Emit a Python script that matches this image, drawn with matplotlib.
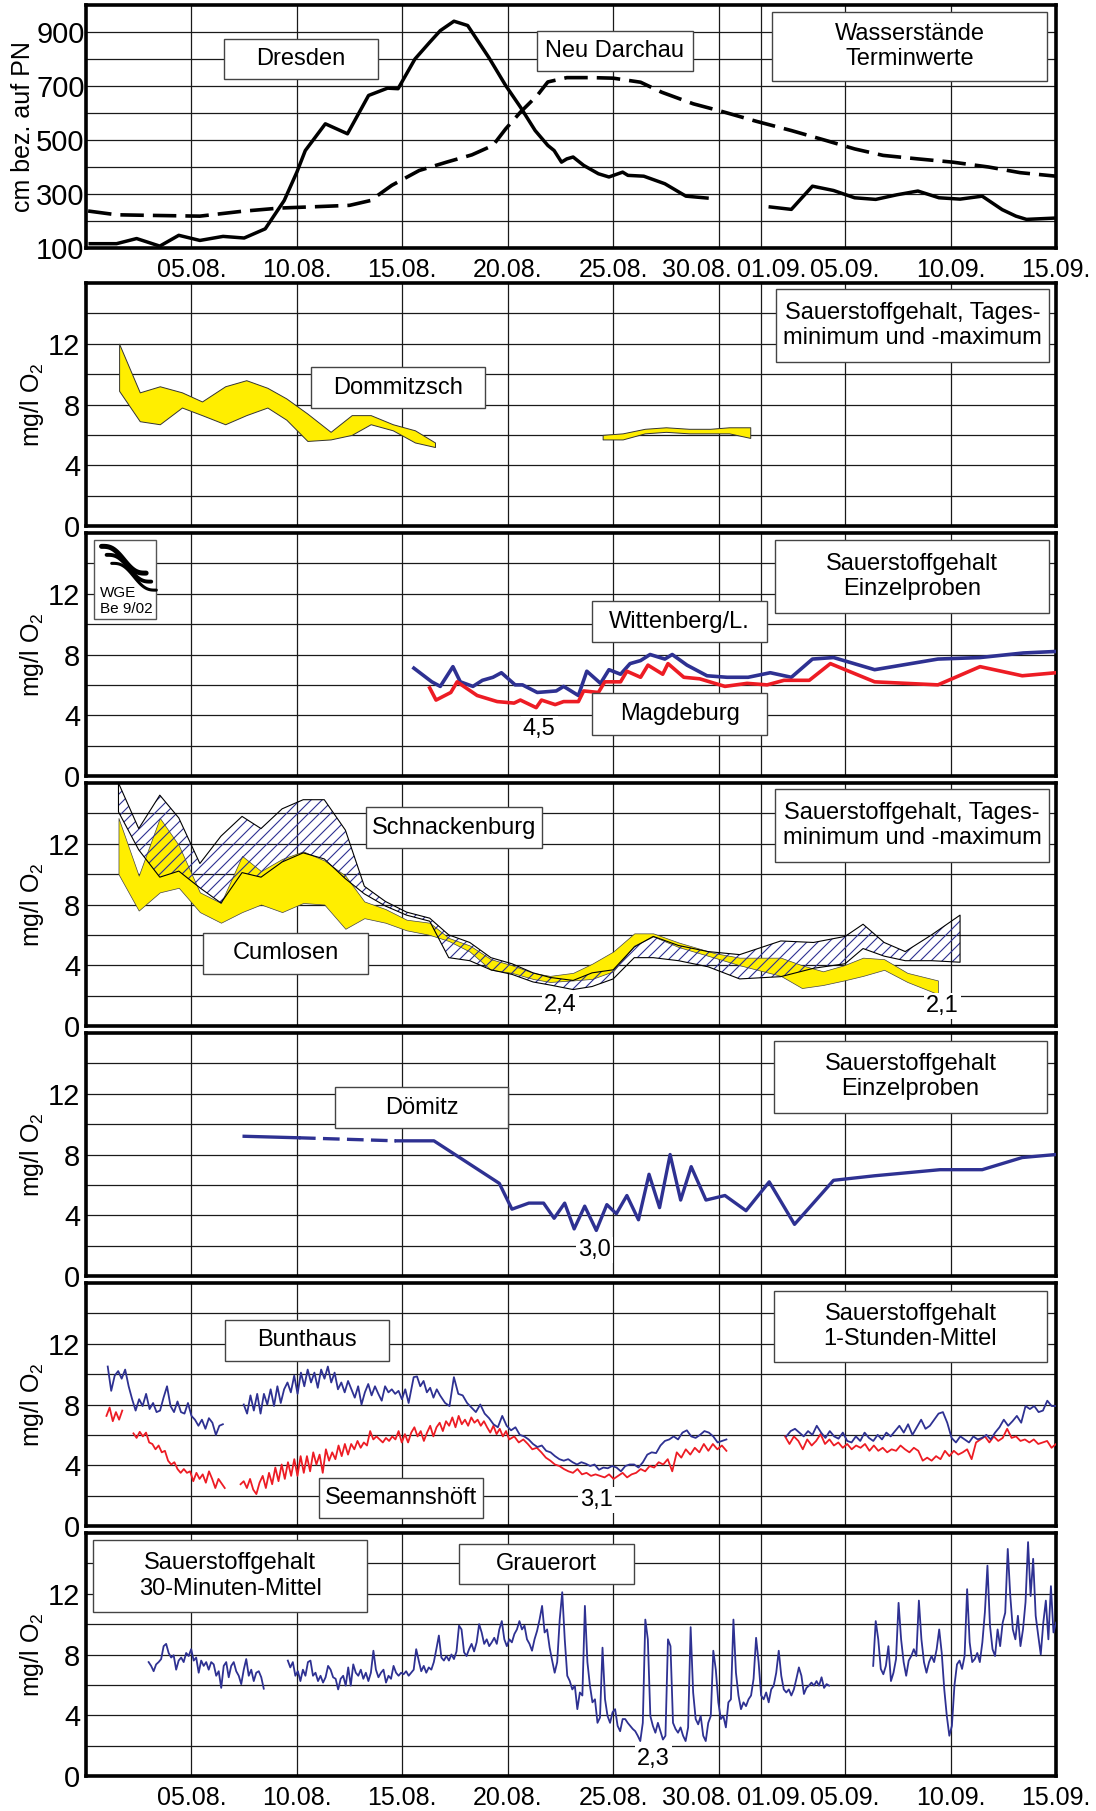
import numpy as np
import matplotlib
matplotlib.use('Agg')
import matplotlib.pyplot as plt
from matplotlib.patches import Rectangle
from matplotlib.transforms import ScaledTranslation

# time axis: day number, 1 = 01.08., 32 = 01.09., 0 = 31.07.
tick_days = [5, 10, 15, 20, 25, 30, 32, 36, 41, 46]
tick_labels = ['05.08.', '10.08.', '15.08.', '20.08.', '25.08.', '30.08.',
               '01.09.', '05.09.', '10.09.', '15.09.']

# --- Wasserstaende (cm) ---
dresden_t1 = [0.2, 1.45, 2.4, 3.5, 4.4, 5.4, 6.5, 7.5, 8.5, 9.4, 10.0, 10.4, 11.35, 12.4, 13.4,
              14.3, 14.8, 15.6, 16.3, 16.8, 17.45, 18.1, 19.1, 19.9, 20.6, 21.3, 21.9, 22.2,
              22.55, 22.8, 23.1, 23.6, 24.3, 24.8, 25.45, 25.7, 26.45, 27.45, 28.45, 29.45]
dresden_v1 = [116, 116, 135, 107, 147, 128, 143, 137, 171, 276, 381, 461, 560, 523, 665,
              692, 690, 800, 862, 905, 940, 924, 806, 702, 622, 535, 480, 461,
              418, 430, 437, 406, 375, 363, 381, 369, 366, 338, 292, 285]
dresden_t2 = [32.45, 33.45, 34.45, 35.45, 36.45, 37.45, 38.45, 39.45, 40.45, 41.45, 42.5,
              43.45, 44.1, 44.6, 46.0]
dresden_v2 = [252, 243, 329, 313, 286, 280, 297, 311, 286, 281, 292, 242, 218, 206, 211]
darchau_t = [0.1, 1.45, 2.9, 5.4, 7.4, 9.2, 10.9, 12.5, 13.5, 14.5, 15.8, 17.1, 18.3, 19.3,
             19.9, 20.6, 21.4, 21.9, 22.8, 24.0, 25.0, 26.3, 27.3, 28.8, 30.1, 31.8, 33.45,
             35.1, 36.45, 37.8, 39.45, 41.1, 42.8, 44.3, 46.0]
darchau_v = [237, 223, 221, 218, 236, 248, 253, 258, 276, 332, 387, 418, 445, 480,
             541, 603, 665, 715, 731, 731, 729, 714, 677, 634, 607, 569, 535,
             498, 467, 443, 430, 418, 400, 379, 366]

# --- Dommitzsch, Tagesminimum / -maximum ---
dom_t1 = [1.57, 2.55, 3.5, 4.55, 5.5, 6.6, 7.6, 8.6, 9.5, 10.5, 11.6, 12.6, 13.5, 14.55, 15.6, 16.55]
dom_max1 = [12.0, 8.8, 9.2, 8.8, 8.2, 9.2, 9.6, 9.1, 8.4, 7.4, 6.2, 7.3, 7.3, 6.7, 6.3, 5.5]
dom_min1 = [8.9, 6.9, 6.7, 7.8, 7.3, 6.7, 7.3, 7.8, 7.0, 5.6, 5.7, 6.0, 6.7, 6.3, 5.5, 5.2]
dom_t2 = [24.5, 25.45, 26.5, 27.5, 28.6, 29.6, 30.5, 31.5]
dom_max2 = [6.0, 6.1, 6.4, 6.5, 6.4, 6.4, 6.5, 6.5]
dom_min2 = [5.7, 5.7, 6.1, 6.2, 6.1, 6.1, 6.1, 5.8]

# --- Einzelproben Wittenberg / Magdeburg ---
witt_t = [15.55, 16.4, 16.8, 17.4, 17.75, 18.35, 18.8, 19.3, 19.7, 20.35, 20.7, 21.4, 22.3,
          22.65, 23.35, 23.75, 24.4, 24.8, 25.35, 25.8, 26.3, 26.75, 27.45, 27.8, 28.5, 29.45,
          30.4, 31.4, 32.45, 33.45, 34.45, 35.45, 37.4, 40.4, 42.4, 44.45, 46.0]
witt_v = [7.1, 6.2, 5.9, 7.2, 6.2, 5.9, 6.3, 6.5, 6.8, 6.0, 6.0, 5.5, 5.6,
          5.9, 5.3, 6.9, 6.1, 7.0, 6.7, 7.4, 7.6, 8.0, 7.7, 8.0, 7.3, 6.6,
          6.5, 6.5, 6.8, 6.5, 7.7, 7.8, 7.0, 7.7, 7.8, 8.1, 8.2]
magd_t = [16.3, 16.6, 17.3, 17.6, 18.55, 19.5, 20.3, 20.6, 21.35, 21.6, 22.25, 22.65, 23.35,
          23.6, 24.3, 24.6, 25.35, 25.65, 26.3, 26.65, 27.35, 27.6, 28.35, 29.1, 30.3, 31.35,
          32.3, 33.1, 34.3, 35.3, 37.4, 40.4, 42.4, 44.4, 46.0]
magd_v = [5.8, 5.0, 5.5, 6.2, 5.3, 4.9, 4.8, 5.0, 4.5, 5.0, 4.7, 4.9, 4.9,
          5.6, 5.5, 6.2, 6.2, 6.9, 6.5, 7.3, 6.7, 7.4, 6.5, 6.4, 5.9, 6.1,
          6.0, 6.3, 6.3, 7.4, 6.2, 6.0, 7.2, 6.6, 6.8]

# --- Schnackenburg / Cumlosen, Tagesminimum / -maximum ---
schn_t = [1.54, 2.5, 3.5, 4.4, 5.4, 6.4, 7.4, 8.3, 9.3, 10.3, 11.3, 12.3, 13.2, 14.2, 15.2,
          16.3, 17.2, 18.2, 19.2, 20.2, 21.2, 22.0, 23.1, 24.0, 25.0, 26.0, 26.9, 28.1, 29.5,
          31.0, 32.95, 34.5, 36.0, 36.85, 37.85, 38.85, 40.1, 41.45]
schn_max = [16.0, 13.0, 15.2, 13.7, 10.7, 12.5, 13.8, 13.0, 14.3, 14.9, 14.9, 12.9, 9.2, 8.2, 7.5,
            7.1, 6.0, 5.5, 4.5, 4.1, 3.5, 3.2, 3.0, 3.5, 3.7, 5.2, 5.9, 5.3, 4.9,
            4.7, 5.6, 5.5, 5.9, 6.7, 5.5, 4.9, 6.0, 7.3]
schn_min = [14.1, 11.6, 9.8, 10.2, 9.1, 8.1, 10.1, 9.8, 10.8, 11.4, 11.0, 9.7, 8.7, 7.9, 7.3,
            6.9, 4.5, 4.3, 3.7, 3.4, 2.9, 2.7, 2.4, 2.6, 3.1, 4.5, 4.5, 4.3, 3.9,
            3.1, 3.25, 3.8, 4.1, 5.1, 4.6, 4.3, 4.3, 4.2]
cuml_t = [1.54, 2.5, 3.5, 4.4, 5.4, 6.4, 7.4, 8.3, 9.3, 10.3, 11.3, 12.3, 13.2, 14.2, 15.2,
          16.3, 17.2, 18.2, 19.2, 20.2, 21.2, 22.0, 23.1, 24.0, 25.0, 26.0, 26.9, 28.1, 29.8,
          31.0, 32.95, 33.95, 34.95, 35.95, 36.85, 37.85, 38.95, 40.4]
cuml_max = [13.7, 9.9, 13.7, 11.9, 8.8, 8.1, 11.2, 10.2, 11.0, 11.5, 10.9, 9.9, 8.2, 7.7, 7.0,
            6.8, 5.8, 5.3, 4.4, 4.0, 3.5, 3.3, 3.5, 4.1, 4.9, 6.1, 6.1, 5.5, 4.8,
            4.5, 4.5, 4.0, 3.6, 4.0, 4.5, 4.4, 3.5, 3.0]
cuml_min = [10.0, 7.6, 8.8, 9.1, 7.5, 6.8, 7.5, 8.0, 7.5, 8.1, 8.0, 6.4, 7.1, 6.8, 6.3,
            6.0, 5.6, 4.9, 3.7, 3.5, 3.1, 2.9, 3.0, 3.1, 3.6, 5.3, 5.9, 5.2, 4.5,
            4.0, 3.3, 2.5, 2.7, 3.0, 3.3, 3.7, 2.9, 2.1]

# --- Doemitz, Einzelproben (index 1..2 dashed) ---
doem_t = [7.5, 10.1, 14.7, 16.5, 19.6, 20.2, 21.0, 21.7, 22.2, 22.7, 23.15, 23.65, 24.2, 24.7,
          25.15, 25.65, 26.2, 26.7, 27.2, 27.7, 28.2, 28.7, 29.4, 30.3, 31.3, 32.4, 33.6,
          35.45, 37.4, 40.5, 42.5, 44.4, 46.0]
doem_v = [9.2, 9.1, 8.9, 8.9, 6.1, 4.4, 4.8, 4.8, 3.8, 4.8, 3.1, 4.6, 3.0, 4.7,
          4.1, 5.3, 3.7, 6.7, 4.5, 8.0, 5.0, 7.2, 5.0, 5.3, 4.3, 6.2, 3.4,
          6.3, 6.6, 7.0, 7.0, 7.8, 8.0]

# --- Bunthaus (blue) / Seemannshoeft (red), 1-Stunden-Mittel, read every few hours ---
# each segment: (first day, last day, values)
bunt_segs = [
    (1.03, 6.49, [10.5, 8.9, 9.9, 10.2, 9.7, 10.3, 9.2, 8.35, 7.6, 8.35, 7.9, 8.7, 7.7, 8.1, 7.5,
                  7.6, 8.45, 9.2, 7.9, 7.5, 8.2, 7.5, 7.4, 8.1, 7.25, 7.0, 6.6, 7.0, 6.4, 7.1,
                  6.8, 6.0, 6.6, 6.7]),
    (7.48, 15.3, [8.0, 7.4, 8.6, 7.6, 8.7, 7.4, 8.7, 8.0, 9.0, 7.9, 9.2, 8.1,
                  9.0, 9.45, 8.8, 9.9, 8.7, 10.1, 9.2, 10.3, 9.45, 10.1, 9.1, 10.3, 9.7, 10.5,
                  9.45, 10.1, 9.0, 9.45, 8.8, 9.55, 9.0, 8.45, 9.2, 8.0, 8.8, 9.35, 8.6, 9.2,
                  8.7, 8.25, 9.2, 8.8, 9.0, 8.7, 8.9, 8.35, 9.0, 8.1]),
    (15.54, 16.79, [9.8, 9.85, 9.2, 9.55, 8.8, 9.1, 8.45, 9.0, 8.6]),
    (17.03, 30.37, [8.1, 7.9, 9.8, 8.7, 8.6, 8.1, 7.8, 7.5, 8.0, 7.4, 7.1, 6.7, 6.5, 7.25, 6.6,
                    6.3, 6.5, 6.0, 5.9, 5.7, 5.4, 5.2, 5.3, 4.95, 4.85, 4.6, 4.4, 4.3, 4.4, 4.2,
                    4.05, 4.2, 4.1, 3.95, 4.05, 3.7, 3.85, 3.8, 3.95, 3.85, 3.6, 3.95, 4.05, 4.05,
                    3.85, 4.2, 4.7, 4.85, 4.8, 5.3, 5.6, 5.7, 5.9, 5.7, 6.15, 6.3, 5.9, 5.8, 6.0,
                    6.25, 6.15, 5.9, 5.5, 5.6, 5.7]),
    (33.21, 46.0, [5.9, 6.25, 6.4, 6.15, 5.9, 6.25, 6.0, 6.6, 6.15, 5.8, 6.25, 5.9, 5.75, 6.15, 5.6,
                   5.5, 5.9, 5.6, 6.15, 5.8, 5.6, 6.0, 5.7, 6.15, 5.9, 6.25, 6.6, 6.15, 6.7, 6.0,
                   6.5, 7.0, 6.4, 6.6, 7.0, 7.4, 7.5, 6.8, 5.8, 5.5, 5.9, 5.7, 5.5, 5.9, 5.7,
                   5.8, 6.0, 5.7, 6.15, 6.5, 7.0, 6.6, 6.9, 7.25, 6.8, 7.9, 7.7, 7.9, 7.5, 7.6,
                   8.25, 7.9, 7.9]),
]
seem_segs = [
    (0.97, 1.72, [7.25, 7.8, 6.9, 7.5, 7.0, 7.6]),
    (2.25, 6.58, [6.1, 5.8, 6.2, 5.9, 6.15, 5.5, 5.4, 5.05, 5.3, 4.85, 4.95, 4.3, 4.05, 4.2, 3.75,
                  3.5, 3.75, 3.5, 3.6, 2.95, 3.5, 3.1, 3.4, 2.85, 3.6, 3.1, 2.5, 3.1, 2.8, 2.5]),
    (7.33, 20.07, [2.75, 2.95, 2.5, 3.1, 2.4,
                   2.1, 2.85, 3.3, 2.5, 3.5, 2.75, 3.85, 2.95, 4.05, 3.1, 4.2, 3.3, 4.4, 3.3, 4.6,
                   3.5, 4.6, 3.6, 4.85, 4.05, 4.7, 3.5, 5.05, 4.3, 4.85, 4.4, 5.3, 4.6, 5.4, 4.7,
                   5.4, 5.05, 5.6, 5.15, 5.5, 5.3, 6.25, 5.7, 5.9, 5.7, 5.5, 5.8, 5.6, 5.9, 5.7,
                   6.25, 5.5, 6.05, 5.5, 6.15, 6.5, 5.9, 6.25, 5.6, 6.15, 6.6, 5.9, 6.5, 6.8, 6.25,
                   6.9, 6.6, 7.15, 6.5, 7.25, 6.7, 7.0, 6.6, 7.15, 6.8, 7.0, 6.6, 6.9, 6.5, 6.15,
                   6.6, 6.05, 6.4, 5.9, 6.25, 5.7]),
    (20.31, 30.37, [5.9, 5.5, 5.7, 5.4, 5.05, 5.15, 4.85, 4.5, 4.3, 4.05, 3.95, 3.75, 3.6, 3.5, 3.75,
                    3.4, 3.5, 3.3, 3.4, 3.3, 3.2, 3.4, 3.1, 3.3, 3.5, 3.2, 3.4, 3.5, 3.75, 3.6,
                    3.95, 3.85, 4.2, 4.05, 4.4, 3.6, 4.85, 4.5, 5.05, 4.7, 5.15, 4.85, 5.4, 4.95,
                    5.4, 5.05, 5.3, 4.95]),
    (33.15, 46.0, [5.9, 5.4, 5.9, 5.6, 5.05, 5.7, 5.3, 5.6, 6.05, 5.4, 5.7, 5.3, 5.5, 5.15, 5.4,
                   5.05, 5.3, 5.15, 5.4, 4.95, 5.3, 4.95, 5.15, 4.85, 5.05, 4.95, 5.3, 5.05, 4.85,
                   5.15, 4.95, 4.3, 4.5, 4.3, 4.6, 4.4, 4.95, 4.6, 4.95, 4.7, 4.85, 5.05, 4.4,
                   5.5, 5.7, 5.9, 5.5, 5.9, 5.6, 5.8, 6.4, 5.8, 5.9, 5.6, 5.7, 5.5, 5.7, 5.4,
                   5.5, 5.6, 5.15, 5.4]),
]

# --- Grauerort, 30-Minuten-Mittel, read every ~3 hours ---
grau_segs = [
    (2.97, 8.43, [7.5, 7.25, 6.9, 7.35, 7.5, 7.7, 8.55, 8.7, 8.1, 7.8, 7.95, 7.0, 7.6, 7.8, 7.5,
                  8.1, 7.9, 8.35, 7.6, 7.8, 6.8, 7.6, 7.25, 7.5, 7.0, 7.5, 7.35, 6.6, 6.9, 5.8,
                  7.25, 7.5, 6.5, 7.25, 7.5, 6.9, 6.6, 6.05, 7.0, 7.7, 6.6, 7.0, 6.25, 6.8, 6.9,
                  6.5, 5.75]),
    (9.57, 35.24, [7.6, 7.15, 7.5, 6.6, 6.9, 6.25, 7.0, 6.6, 7.5, 7.6,
                   6.6, 6.8, 6.25, 6.6, 6.15, 6.5, 7.25, 7.0, 6.5, 6.4,
                   5.7, 6.4, 6.6, 5.95, 7.15, 5.95, 7.35, 6.8, 6.6, 7.0,
                   6.4, 6.8, 6.25, 6.8, 8.25, 7.0, 6.5, 6.8, 7.0, 6.15,
                   6.6, 6.4, 7.25, 6.8, 6.6, 6.8, 6.7, 6.9, 6.6, 6.8,
                   7.0, 8.35, 7.6, 6.9, 7.25, 6.8, 7.15, 7.0, 7.5, 8.35,
                   9.25, 7.8, 7.6, 7.9, 7.6, 8.0, 7.7, 8.2, 9.9, 9.65,
                   8.15, 7.9, 8.35, 8.7, 8.2, 8.8, 10.0, 9.45, 8.7, 9.0,
                   8.55, 8.8, 9.1, 8.7, 9.65, 10.2, 9.0, 8.55, 9.0, 8.8,
                   9.35, 9.65, 10.2, 9.65, 9.9, 9.0, 8.7, 8.25, 9.0, 9.55,
                   10.3, 11.2, 9.45, 9.65, 8.45, 7.6, 6.8, 7.5, 10.3, 12.1,
                   9.0, 6.6, 6.25, 5.7, 5.95, 4.4, 5.5, 5.3, 11.2, 7.5,
                   5.95, 4.85, 5.05, 3.5, 3.85, 8.45, 5.05, 3.95, 3.5, 4.2,
                   4.4, 3.3, 2.95, 3.75, 3.75, 3.5, 3.3, 3.1, 2.95, 2.65,
                   2.3, 3.5, 10.3, 9.0, 3.95, 3.3, 2.85, 3.5, 2.95, 2.4,
                   2.65, 9.0, 8.55, 3.5, 3.1, 2.85, 3.2, 2.65, 2.3, 3.2,
                   9.8, 5.5, 3.75, 3.4, 3.95, 2.65, 2.3, 3.5, 3.95, 8.25,
                   7.0, 4.85, 3.75, 3.95, 3.2, 4.85, 5.05, 10.3, 6.8, 5.3,
                   4.4, 4.85, 4.6, 5.05, 5.3, 6.4, 9.1, 7.5, 5.3, 5.05,
                   5.5, 4.85, 5.7, 5.95, 6.8, 8.25, 6.6, 5.7, 5.5, 5.7,
                   5.3, 5.7, 6.4, 7.15, 6.6, 5.4, 5.8, 5.95, 6.15, 5.95,
                   6.25, 5.95, 6.5, 5.8, 6.05, 5.95]),
    (37.33, 46.0, [7.25, 10.2, 9.0, 7.05, 6.7, 7.25, 8.55, 6.25, 6.8, 7.7, 11.4, 9.0, 7.5, 6.6, 7.6,
                   7.9, 8.35, 7.9, 11.55, 9.0, 7.5, 6.8, 7.5, 7.9, 7.5, 8.35, 9.65, 8.1, 5.7, 3.95,
                   2.65, 3.3, 5.95, 7.35, 7.6, 7.05, 7.9, 12.3, 8.8, 7.5, 7.7, 8.1, 7.5, 8.8, 10.8,
                   13.85, 9.9, 8.35, 7.9, 9.65, 8.55, 10.1, 10.75, 14.95, 11.85, 9.65, 9.0, 10.55,
                   8.55, 9.65, 11.45, 15.4, 11.85, 14.3, 10.55, 9.25, 8.0, 10.1, 11.55, 9.0, 12.5,
                   9.45, 10.1]),
]

BLUE = '#2e3192'
RED = '#ed1c24'
YELLOW = '#ffee00'
FS = 17

plt.rcParams['font.family'] = ['Liberation Sans', 'DejaVu Sans']
plt.rcParams['mathtext.fontset'] = 'custom'
plt.rcParams['mathtext.rm'] = 'Liberation Sans'

fig = plt.figure(figsize=(10.96, 18.11), dpi=100)
FW, FH = 1096, 1811
left, width, height = 86 / FW, 970 / FW, 243 / FH
tops = [5, 283, 533, 783, 1033, 1283, 1533]
axes = [fig.add_axes([left, 1 - (t + 243) / FH, width, height]) for t in tops]


def style(ax, ylim, step, yticks, ylabel, xlabels=False, ypad=4):
    ax.set_xlim(0, 46)
    ax.set_ylim(*ylim)
    for d in tick_days[:-1]:
        ax.axvline(d, color='#1a1a1a', lw=0.9, zorder=1)
    for y in np.arange(ylim[0] + step, ylim[1], step):
        ax.axhline(y, color='#1a1a1a', lw=0.9, zorder=1)
    ax.set_yticks(yticks)
    ax.set_xticks(tick_days)
    ax.set_xticklabels(tick_labels)
    ax.tick_params(length=0)
    ax.tick_params(axis='y', labelsize=21, pad=ypad)
    ax.tick_params(axis='x', labelsize=18, pad=7, labelbottom=xlabels)
    for s in ax.spines.values():
        s.set_linewidth(2.6)
    ax.set_ylabel(ylabel, fontsize=18)
    if xlabels:
        # the crowded labels around the month change sit off-centre
        ticks = ax.xaxis.get_major_ticks()
        for i, dx in [(5, -22), (6, 11)]:
            lab = ticks[i].label1
            lab.set_transform(lab.get_transform() +
                              ScaledTranslation(dx / 100, 0, fig.dpi_scale_trans))


def box(ax, x0, x1, y0, y1, text):
    ax.add_patch(Rectangle((x0, y0), x1 - x0, y1 - y0, transform=ax.transAxes,
                           facecolor='white', edgecolor='#444444', lw=1.0, zorder=6))
    ax.text((x0 + x1) / 2, (y0 + y1) / 2, text, transform=ax.transAxes, ha='center',
            va='center', fontsize=FS, zorder=7, linespacing=1.2)


def note(ax, x, y, text):
    ax.text(x, y, text, ha='center', va='center', fontsize=FS, zorder=5,
            bbox=dict(facecolor='white', edgecolor='none', pad=1.5))


def seg_lines(ax, segs, color):
    # segments closer than ~0.4 day are one continuous record
    xs, ys = [], []
    for t0, t1, vals in segs:
        if xs and t0 - xs[-1][-1] > 0.4:
            ax.plot(np.concatenate(xs), np.concatenate(ys), color=color, lw=1.3, zorder=3)
            xs, ys = [], []
        xs.append(np.linspace(t0, t1, len(vals)))
        ys.append(np.array(vals))
    ax.plot(np.concatenate(xs), np.concatenate(ys), color=color, lw=1.3, zorder=3)


O2 = 'mg/l O$_2$'

# panel 1: Wasserstaende
ax = axes[0]
style(ax, (100, 1000), 100, [100, 300, 500, 700, 900], 'cm bez. auf PN', xlabels=True, ypad=1)
ax.yaxis.set_label_coords(-0.053, 0.5)
ax.plot(dresden_t1, dresden_v1, color='black', lw=2.5, zorder=3)
ax.plot(dresden_t2, dresden_v2, color='black', lw=2.5, zorder=3)
ax.plot(darchau_t, darchau_v, color='black', lw=2.6, dashes=(6.5, 2.5), zorder=3)
box(ax, 0.142, 0.301, 0.696, 0.860, 'Dresden')
box(ax, 0.4645, 0.626, 0.730, 0.894, 'Neu Darchau')
box(ax, 0.707, 0.991, 0.689, 0.970, 'Wasserstände\nTerminwerte')

# panel 2: Dommitzsch
ax = axes[1]
style(ax, (0, 16), 2, [0, 4, 8, 12], O2)
for t, lo, hi in [(dom_t1, dom_min1, dom_max1), (dom_t2, dom_min2, dom_max2)]:
    ax.fill_between(t, lo, hi, facecolor=YELLOW, edgecolor='#333333', lw=0.7, zorder=2)
box(ax, 0.232, 0.411, 0.485, 0.654, 'Dommitzsch')
box(ax, 0.711, 0.993, 0.673, 0.975, 'Sauerstoffgehalt, Tages-\nminimum und -maximum')

# panel 3: Wittenberg / Magdeburg
ax = axes[2]
style(ax, (0, 16), 2, [0, 4, 8, 12], O2)
ax.plot(witt_t, witt_v, color=BLUE, lw=2.6, zorder=3)
ax.plot(magd_t, magd_v, color=RED, lw=2.6, zorder=3)
note(ax, 21.5, 3.1, '4,5')
box(ax, 0.522, 0.702, 0.55, 0.721, 'Wittenberg/L.')
box(ax, 0.522, 0.702, 0.169, 0.341, 'Magdeburg')
box(ax, 0.710, 0.993, 0.670, 0.970, 'Sauerstoffgehalt\nEinzelproben')
# WGE logo: three slanted brush strokes
ax.add_patch(Rectangle((0.008, 0.647), 0.064, 0.323, transform=ax.transAxes,
                       facecolor='white', edgecolor='#555555', lw=1.0, zorder=6))
lx = np.linspace(0, 1, 30)
for off, lw in [(0.0, 3.6), (0.035, 2.8), (0.07, 2.2)]:
    ax.plot(0.016 + 0.046 * lx + off * 0.15,
            0.945 - off - 0.11 * lx + 0.018 * np.sin(lx * 2 * np.pi),
            color='black', lw=lw, solid_capstyle='round', transform=ax.transAxes, zorder=7)
ax.text(0.014, 0.752, 'WGE', transform=ax.transAxes, fontsize=11, va='center', zorder=7)
ax.text(0.014, 0.688, 'Be 9/02', transform=ax.transAxes, fontsize=11, va='center', zorder=7)

# panel 4: Schnackenburg / Cumlosen
ax = axes[3]
style(ax, (0, 16), 2, [0, 4, 8, 12], O2)
ax.fill_between(cuml_t, cuml_min, cuml_max, facecolor=YELLOW, edgecolor='#444444',
                lw=0.5, zorder=2)
schn = ax.fill_between(schn_t, schn_min, schn_max, facecolor='none', edgecolor='black',
                       lw=0.8, zorder=4)
# hand-made hatch: 45 degree blue lines clipped to the Schnackenburg band
clip = schn.get_paths()[0]
slant = 243 / 970
for x0 in np.arange(-slant, 1.0, 11 / 970):
    hl, = ax.plot([x0, x0 + slant], [0, 1], transform=ax.transAxes, color=BLUE,
                  lw=0.8, zorder=3)
    hl.set_clip_path(clip, ax.transData)
note(ax, 22.5, 1.4, '2,4')
note(ax, 40.6, 1.3, '2,1')
box(ax, 0.289, 0.470, 0.731, 0.900, 'Schnackenburg')
box(ax, 0.121, 0.291, 0.216, 0.384, 'Cumlosen')
box(ax, 0.710, 0.993, 0.676, 0.975, 'Sauerstoffgehalt, Tages-\nminimum und -maximum')

# panel 5: Doemitz
ax = axes[4]
style(ax, (0, 16), 2, [0, 4, 8, 12], O2)
ax.plot(doem_t[:2], doem_v[:2], color=BLUE, lw=2.4, zorder=3)
ax.plot(doem_t[1:3], doem_v[1:3], color=BLUE, lw=2.4, dashes=(5, 2.2), zorder=3)
ax.plot(doem_t[2:], doem_v[2:], color=BLUE, lw=2.4, zorder=3)
note(ax, 24.1, 1.7, '3,0')
box(ax, 0.257, 0.435, 0.607, 0.778, 'Dömitz')
box(ax, 0.709, 0.991, 0.672, 0.969, 'Sauerstoffgehalt\nEinzelproben')

# panel 6: Bunthaus / Seemannshoeft
ax = axes[5]
style(ax, (0, 16), 2, [0, 4, 8, 12], O2)
seg_lines(ax, seem_segs, RED)
seg_lines(ax, bunt_segs, BLUE)
note(ax, 24.2, 1.7, '3,1')
box(ax, 0.143, 0.312, 0.680, 0.849, 'Bunthaus')
box(ax, 0.240, 0.409, 0.034, 0.199, 'Seemannshöft')
box(ax, 0.709, 0.991, 0.673, 0.969, 'Sauerstoffgehalt\n1-Stunden-Mittel')

# panel 7: Grauerort
ax = axes[6]
style(ax, (0, 16), 2, [0, 4, 8, 12], O2, xlabels=True)
seg_lines(ax, grau_segs, BLUE)
note(ax, 26.9, 1.15, '2,3')
box(ax, 0.007, 0.290, 0.673, 0.972, 'Sauerstoffgehalt\n30-Minuten-Mittel')
box(ax, 0.385, 0.565, 0.790, 0.955, 'Grauerort')

for ax in axes[1:]:
    ax.yaxis.set_label_coords(-0.041, 0.5)

fig.savefig('out.png', dpi=100)
